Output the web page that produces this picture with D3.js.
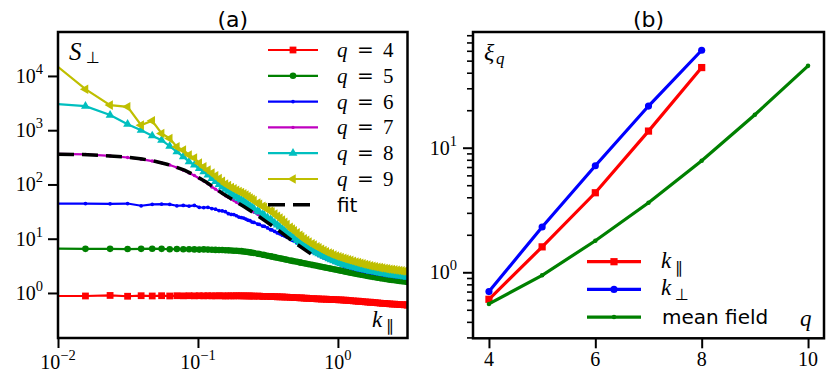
<!doctype html>
<html lang="en">
<head>
<meta charset="utf-8">
<title>S perp and xi q</title>
<style>
  * { margin: 0; padding: 0; border: 0; }
  body { background: #fff; }
  .serif { font-family: 'Liberation Serif', 'DejaVu Serif', serif; }
  .sans { font-family: 'DejaVu Sans', sans-serif; }
</style>
</head>
<body>
<div id="plot"></div>
<script src="https://cdnjs.cloudflare.com/ajax/libs/d3/7.8.5/d3.min.js"></script>
<script>

  // panel (a): S_perp against k_par, one value per k for every q
  var k = [0.00785, 0.01571, 0.02356, 0.03142, 0.03927, 0.04712, 0.05498, 0.06283, 0.07069, 0.07854,
           0.08639, 0.09425, 0.1021, 0.1100, 0.1178, 0.1257,
           0.1335, 0.1414, 0.1492, 0.1571, 0.1649, 0.1728, 0.1806, 0.1885, 0.1963, 0.2042,
           0.2121, 0.2199, 0.2278,
           0.2356, 0.2435, 0.2513, 0.2670, 0.2749, 0.2906, 0.2985, 0.3142, 0.3299, 0.3377,
           0.3534, 0.3691, 0.3848, 0.4006, 0.4163, 0.4320, 0.4555, 0.4712, 0.4869, 0.5105,
           0.5341, 0.5498, 0.5733, 0.5969, 0.6205, 0.6519, 0.6754, 0.7069, 0.7304, 0.7618,
           0.7933, 0.8247, 0.8639, 0.8954, 0.9346, 0.9739, 1.0132, 1.0524, 1.0996, 1.1388,
           1.1860, 1.2331, 1.2881, 1.3430, 1.3980, 1.4530, 1.5080, 1.5708, 1.6336, 1.7043,
           1.7750, 1.8457, 1.9242, 2.0028, 2.0813, 2.1677, 2.2541, 2.3483, 2.4426, 2.5447,
           2.6468, 2.7567, 2.8667, 2.9845, 3.1102, 3.1416];

  var s4 = [0.88, 0.88, 0.9, 0.87, 0.89, 0.88, 0.89, 0.88, 0.89, 0.885, 0.89, 0.885, 0.89, 0.885, 0.89, 0.885,
            0.885, 0.89, 0.885, 0.88, 0.887, 0.885, 0.883, 0.89, 0.886, 0.885, 0.884, 0.882, 0.881,
            0.88, 0.878, 0.876, 0.873, 0.871, 0.868, 0.867, 0.864, 0.861, 0.859,
            0.856, 0.852, 0.848, 0.844, 0.84, 0.836, 0.831, 0.827, 0.823, 0.818,
            0.812, 0.809, 0.804, 0.799, 0.795, 0.789, 0.785, 0.78, 0.777, 0.773,
            0.769, 0.766, 0.762, 0.758, 0.754, 0.751, 0.748, 0.744, 0.739, 0.734,
            0.728, 0.722, 0.716, 0.71, 0.704, 0.698, 0.692, 0.686, 0.68, 0.674,
            0.668, 0.662, 0.656, 0.65, 0.645, 0.64, 0.635, 0.63, 0.625, 0.62,
            0.616, 0.612, 0.608, 0.604, 0.601, 0.6];
  var s5 = [6.6, 6.5, 6.5, 6.45, 6.5, 6.55, 6.5, 6.4, 6.45, 6.4, 6.4, 6.35, 6.3, 6.35, 6.3, 6.25,
            6.22, 6.2, 6.18, 6.15, 6.1, 6.05, 6.02, 6.0, 5.95, 5.9, 5.82, 5.75, 5.68,
            5.6, 5.53, 5.45, 5.3, 5.22, 5.07, 5.0, 4.86, 4.74, 4.68,
            4.57, 4.46, 4.36, 4.27, 4.18, 4.1, 3.98, 3.91, 3.84, 3.75,
            3.66, 3.6, 3.52, 3.45, 3.38, 3.3, 3.24, 3.17, 3.11, 3.04,
            2.98, 2.92, 2.85, 2.8, 2.74, 2.68, 2.63, 2.58, 2.52, 2.47,
            2.42, 2.37, 2.32, 2.27, 2.22, 2.18, 2.14, 2.1, 2.06, 2.02,
            1.98, 1.95, 1.91, 1.88, 1.85, 1.82, 1.79, 1.76, 1.74, 1.71,
            1.69, 1.67, 1.65, 1.63, 1.61, 1.6];
  var s6 = [44, 44.5, 44, 44.5, 40.5, 43, 43.5, 43, 40.5, 41, 40, 41, 38, 37.5, 38, 36,
            35, 33, 32.5, 31.5, 29, 28, 27.8, 26.5, 25, 24.5, 24, 23, 22,
            21.5, 20.3, 20.0, 18.6, 18.3, 17.0, 16.9, 15.8, 14.7, 14.5,
            13.6, 12.8, 12.3, 11.6, 11.2, 10.6, 9.9, 9.4, 8.95, 8.3,
            7.7, 7.35, 6.9, 6.5, 6.15, 5.75, 5.45, 5.15, 4.93, 4.67,
            4.44, 4.24, 4.02, 3.85, 3.67, 3.52, 3.38, 3.26, 3.14, 3.05,
            2.96, 2.88, 2.8, 2.72, 2.65, 2.59, 2.53, 2.47, 2.42, 2.37,
            2.32, 2.28, 2.24, 2.2, 2.16, 2.12, 2.09, 2.06, 2.03, 2.0,
            1.97, 1.95, 1.93, 1.91, 1.89, 1.88];
  var s7 = [368, 359, 336, 314, 292, 270, 250, 228, 205, 182, 163, 146, 129, 116, 103, 90,
            82, 74, 68, 62, 58, 54, 50.5, 47, 44.5, 42.5, 40, 38, 36,
            34, 32.3, 30.8, 28.2, 27, 24.7, 23.7, 21.9, 20.2, 19.4,
            18, 16.6, 15.4, 14.3, 13.3, 12.4, 11.2, 10.5, 9.85, 9.0,
            8.25, 7.8, 7.25, 6.8, 6.4, 5.95, 5.65, 5.32, 5.1, 4.82,
            4.58, 4.38, 4.15, 3.98, 3.8, 3.64, 3.5, 3.37, 3.25, 3.15,
            3.06, 2.97, 2.89, 2.81, 2.74, 2.68, 2.62, 2.56, 2.5, 2.45,
            2.4, 2.35, 2.31, 2.27, 2.23, 2.19, 2.15, 2.12, 2.09, 2.06,
            2.03, 2.0, 1.98, 1.96, 1.93, 1.92];
  var s8 = [3150, 2780, 1900, 1290, 1000, 790, 655, 510, 400, 325, 262, 228, 198, 171, 149, 129,
            114, 100, 90, 82, 75, 68, 63, 59, 55, 52, 49, 46, 43,
            40, 38, 36, 32.5, 31, 28, 26.8, 24.5, 22.5, 21.5,
            19.6, 18, 16.5, 15.2, 14, 13, 11.7, 10.9, 10.2, 9.3,
            8.5, 8.05, 7.5, 7.05, 6.65, 6.2, 5.9, 5.55, 5.3, 5.0,
            4.75, 4.55, 4.3, 4.12, 3.93, 3.77, 3.63, 3.5, 3.37, 3.27,
            3.17, 3.08, 2.99, 2.91, 2.84, 2.77, 2.71, 2.65, 2.59, 2.53,
            2.48, 2.43, 2.38, 2.34, 2.3, 2.26, 2.22, 2.18, 2.15, 2.12,
            2.09, 2.06, 2.03, 2.0, 1.98, 1.97];
  var s9 = [24500, 5700, 2900, 2700, 1240, 1490, 870, 705, 493, 430, 350, 308, 247, 212, 184, 162,
            144, 128, 114, 102, 95, 88, 83, 78, 74, 71, 67, 64, 60,
            56, 53, 50.5, 45.5, 43, 39.5, 38, 35, 32.5, 31,
            28.5, 26, 24, 22, 20, 18.3, 16.3, 15, 14, 12.8,
            11.6, 10.9, 10.0, 9.3, 8.7, 8.05, 7.6, 7.1, 6.8, 6.4,
            6.05, 5.75, 5.45, 5.25, 5.0, 4.8, 4.65, 4.5, 4.35, 4.22,
            4.1, 3.98, 3.85, 3.73, 3.62, 3.52, 3.43, 3.34, 3.26, 3.18,
            3.11, 3.04, 2.98, 2.93, 2.88, 2.83, 2.78, 2.74, 2.70, 2.66,
            2.62, 2.59, 2.55, 2.52, 2.49, 2.48];

  var fitK = [0.01, 0.015, 0.02, 0.03, 0.04, 0.05, 0.06, 0.07, 0.08, 0.09, 0.1, 0.115,
              0.13, 0.15, 0.18, 0.21, 0.25, 0.3, 0.36, 0.43, 0.5, 0.6, 0.68];
  var fitS = [362, 355, 345, 322, 295, 265, 236, 208, 183, 158, 136, 110,
              88, 68, 51, 40, 30, 21.5, 15.5, 10.9, 8.2, 5.9, 4.75];

  // panel (b): correlation length against q
  var qPar = [4, 5, 6, 7, 8];
  var xiPar = [0.607, 1.60, 4.35, 13.6, 44.0];
  var qPerp = [4, 5, 6, 7, 8];
  var xiPerp = [0.70, 2.31, 7.16, 21.6, 60.6];
  var qMF = [4, 5, 6, 7, 8, 9, 10];
  var xiMF = [0.557, 0.946, 1.79, 3.62, 7.85, 18.4, 45.4];

  var xExpA = [-2, -1, 0];
  var yExpA = [0, 1, 2, 3, 4];
  var yExpB = [0, 1];
  var qTicks = [4, 6, 8, 10];
  var yMinorB = [0.3, 0.4, 0.5, 0.6, 0.7, 0.8, 0.9, 2, 3, 4, 5, 6, 7, 8, 9, 20, 30, 40, 50, 60, 70, 80];

  var width = 831, height = 372;
  var svg = d3.select("#plot").append("svg").attr("width", width).attr("height", height);

  // ---------- panel (a) ----------
  var A = {x0: 58, x1: 407.5, y0: 32, y1: 338};
  var xa = d3.scaleLog().domain([0.01, Math.PI]).range([A.x0, A.x1]);
  var ya = d3.scaleLog().domain([Math.pow(10, -0.83), Math.pow(10, 4.81)]).range([A.y1, A.y0]);

  svg.append("clipPath").attr("id", "clipA").append("rect")
    .attr("x", A.x0).attr("y", A.y0).attr("width", A.x1 - A.x0).attr("height", A.y1 - A.y0);

  var series = [
    {q: 4, s: s4, color: "#ff0000", sym: d3.symbolSquare, size: 46, rot: 0},
    {q: 5, s: s5, color: "#008000", sym: d3.symbolCircle, size: 34, rot: 0},
    {q: 6, s: s6, color: "#0000ff", sym: d3.symbolCircle, size: 11, rot: 0},
    {q: 7, s: s7, color: "#bf00bf", sym: d3.symbolCircle, size: 9, rot: 0},
    {q: 8, s: s8, color: "#00bfbf", sym: d3.symbolTriangle, size: 34, rot: 0},
    {q: 9, s: s9, color: "#bfbf00", sym: d3.symbolTriangle, size: 40, rot: -90}
  ];

  var lineA = d3.line().x(d => xa(d[0])).y(d => ya(d[1]));
  var gA = svg.append("g").attr("clip-path", "url(#clipA)");

  function marker(g, x, y, se) {
    g.append("path")
      .attr("transform", "translate(" + x + "," + y + ")" + (se.rot ? " rotate(" + se.rot + ")" : ""))
      .attr("d", d3.symbol().type(se.sym).size(se.size)())
      .attr("fill", se.color);
  }

  series.forEach(function(se) {
    var pts = k.map((kk, i) => [kk, se.s[i]]);
    gA.append("path").attr("d", lineA(pts)).attr("fill", "none")
      .attr("stroke", se.color).attr("stroke-width", 2.2);
    pts.forEach(d => marker(gA, xa(d[0]), ya(d[1]), se));
  });

  gA.append("path").attr("d", lineA(fitK.map((kk, i) => [kk, fitS[i]])))
    .attr("fill", "none").attr("stroke", "#000").attr("stroke-width", 3.5)
    .attr("stroke-dasharray", "16,8");

  // ticks
  svg.append("g").attr("transform", "translate(" + A.x0 + ",0)")
    .call(d3.axisLeft(ya).tickValues(yExpA.map(e => Math.pow(10, e))).tickSize(10).tickFormat(""))
    .call(g => g.select(".domain").remove())
    .selectAll("line").attr("stroke", "#000").attr("stroke-width", 2);
  svg.append("g").attr("transform", "translate(0," + A.y1 + ")")
    .call(d3.axisBottom(xa).tickValues(xExpA.map(e => Math.pow(10, e))).tickSize(10).tickFormat(""))
    .call(g => g.select(".domain").remove())
    .selectAll("line").attr("stroke", "#000").attr("stroke-width", 2);

  function powLabel(x, y, e, anchor) {
    var t = svg.append("text").attr("class", "serif").attr("x", x).attr("y", y)
      .attr("text-anchor", anchor).style("font-size", "20px");
    t.append("tspan").text("10");
    t.append("tspan").attr("dy", -9).style("font-size", "14.5px").text(e < 0 ? "\u2212" + (-e) : e);
  }
  yExpA.forEach(e => powLabel(A.x0 - 15, ya(Math.pow(10, e)) + 7, e, "end"));
  xExpA.forEach(e => powLabel(xa(Math.pow(10, e)), 369, e, "middle"));

  svg.append("rect").attr("x", A.x0).attr("y", A.y0).attr("width", A.x1 - A.x0).attr("height", A.y1 - A.y0)
    .attr("fill", "none").attr("stroke", "#000").attr("stroke-width", 2.5);

  // legend (a)
  var legA = svg.append("g");
  series.forEach(function(se, i) {
    var y = 50 + i * 25.8;
    legA.append("line").attr("x1", 268).attr("x2", 318).attr("y1", y).attr("y2", y)
      .attr("stroke", se.color).attr("stroke-width", 2.2);
    marker(legA, 293, y, se);
    var t = legA.append("text").attr("class", "serif").attr("y", y + 7).style("font-size", "21px");
    t.append("tspan").attr("x", 337).style("font-style", "italic").text("q");
    t.append("tspan").attr("x", 357).style("font-family", "'DejaVu Serif', serif").style("font-size", "20px").text("=");
    t.append("tspan").attr("x", 383).text(se.q);
  });
  var yFit = 50 + 6 * 25.8;
  legA.append("line").attr("x1", 268).attr("x2", 318).attr("y1", yFit).attr("y2", yFit)
    .attr("stroke", "#000").attr("stroke-width", 3.5).attr("stroke-dasharray", "17,8");
  legA.append("text").attr("class", "sans").attr("x", 337).attr("y", yFit + 7)
    .style("font-size", "20px").text("fit");

  // labels (a)
  svg.append("text").attr("class", "sans").attr("x", (A.x0 + A.x1) / 2).attr("y", 27)
    .attr("text-anchor", "middle").style("font-size", "22px").text("(a)");
  svg.append("text").attr("class", "serif").attr("x", 69).attr("y", 60)
    .style("font-size", "25px").style("font-style", "italic").text("S");
  svg.append("text").attr("class", "sans").attr("x", 86).attr("y", 63)
    .style("font-size", "16px").text("\u22A5");
  svg.append("text").attr("class", "serif").attr("x", 372).attr("y", 327)
    .style("font-size", "23px").style("font-style", "italic").text("k");
  svg.append("text").attr("class", "sans").attr("x", 386).attr("y", 331)
    .style("font-size", "16px").text("\u2225");

  // ---------- panel (b) ----------
  var B = {x0: 473, x1: 824, y0: 32, y1: 338.3};
  var xb = d3.scaleLinear().domain([3.7, 10.3]).range([B.x0, B.x1]);
  var yb = d3.scaleLog().domain([Math.pow(10, -0.53), Math.pow(10, 1.929)]).range([B.y1, B.y0]);
  var lineB = d3.line().x(d => xb(d[0])).y(d => yb(d[1]));

  var seriesB = [
    {name: "par", q: qPar, v: xiPar, color: "#ff0000", sym: d3.symbolSquare, size: 52, rot: 0},
    {name: "perp", q: qPerp, v: xiPerp, color: "#0000ff", sym: d3.symbolCircle, size: 40, rot: 0},
    {name: "mf", q: qMF, v: xiMF, color: "#008000", sym: d3.symbolCircle, size: 16, rot: 0}
  ];
  var gB = svg.append("g");
  seriesB.forEach(function(se) {
    var pts = se.q.map((q, i) => [q, se.v[i]]);
    gB.append("path").attr("d", lineB(pts)).attr("fill", "none")
      .attr("stroke", se.color).attr("stroke-width", 3.2);
    pts.forEach(d => marker(gB, xb(d[0]), yb(d[1]), se));
  });

  svg.append("g").attr("transform", "translate(" + B.x0 + ",0)")
    .call(d3.axisLeft(yb).tickValues(yExpB.map(e => Math.pow(10, e))).tickSize(10).tickFormat(""))
    .call(g => g.select(".domain").remove())
    .selectAll("line").attr("stroke", "#000").attr("stroke-width", 2);
  svg.append("g").attr("transform", "translate(" + B.x0 + ",0)")
    .call(d3.axisLeft(yb).tickValues(yMinorB).tickSize(6).tickFormat(""))
    .call(g => g.select(".domain").remove())
    .selectAll("line").attr("stroke", "#000").attr("stroke-width", 1.6);
  svg.append("g").attr("transform", "translate(0," + B.y1 + ")")
    .call(d3.axisBottom(xb).tickValues(qTicks).tickSize(10).tickFormat(""))
    .call(g => g.select(".domain").remove())
    .selectAll("line").attr("stroke", "#000").attr("stroke-width", 2);

  yExpB.forEach(e => powLabel(B.x0 - 16, yb(Math.pow(10, e)) + 7, e, "end"));
  qTicks.forEach(q => svg.append("text").attr("class", "serif").attr("x", xb(q)).attr("y", 366)
    .attr("text-anchor", "middle").style("font-size", "20px").text(q));

  svg.append("rect").attr("x", B.x0).attr("y", B.y0).attr("width", B.x1 - B.x0).attr("height", B.y1 - B.y0)
    .attr("fill", "none").attr("stroke", "#000").attr("stroke-width", 2.5);

  // legend (b)
  var legB = svg.append("g");
  var subs = ["\u2225", "\u22A5"];
  seriesB.forEach(function(se, i) {
    var y = 261.7 + i * 27.7;
    legB.append("line").attr("x1", 587).attr("x2", 641).attr("y1", y).attr("y2", y)
      .attr("stroke", se.color).attr("stroke-width", 3.2);
    marker(legB, 614, y, se);
    if (i < 2) {
      legB.append("text").attr("class", "serif").attr("x", 661).attr("y", y + 6)
        .style("font-size", "23px").style("font-style", "italic").text("k");
      legB.append("text").attr("class", "sans").attr("x", 675).attr("y", y + 11)
        .style("font-size", "16px").text(subs[i]);
    } else {
      legB.append("text").attr("class", "sans").attr("x", 662).attr("y", y + 7)
        .style("font-size", "20px").text("mean field");
    }
  });

  // labels (b)
  svg.append("text").attr("class", "sans").attr("x", (B.x0 + B.x1) / 2).attr("y", 27)
    .attr("text-anchor", "middle").style("font-size", "22px").text("(b)");
  svg.append("text").attr("class", "serif").attr("x", 484).attr("y", 60)
    .style("font-size", "24px").style("font-style", "italic").text("\u03BE");
  svg.append("text").attr("class", "serif").attr("x", 496).attr("y", 64)
    .style("font-size", "17px").style("font-style", "italic").text("q");
  svg.append("text").attr("class", "serif").attr("x", 800).attr("y", 326)
    .style("font-size", "23px").style("font-style", "italic").text("q");

</script>
</body>
</html>
